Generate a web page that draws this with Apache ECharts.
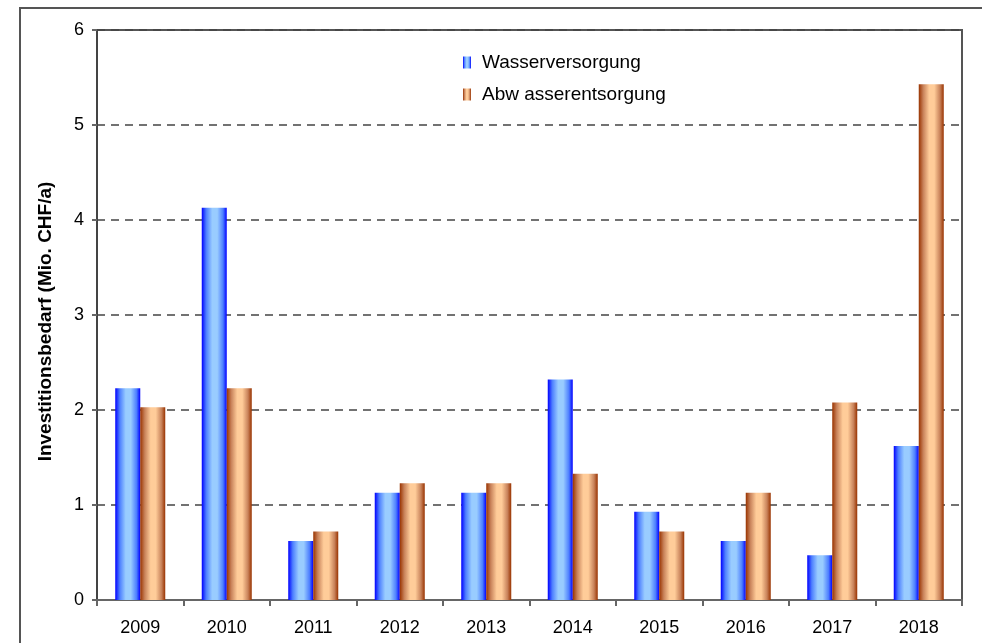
<!DOCTYPE html>
<html>
<head>
<meta charset="utf-8">
<script src="https://cdn.jsdelivr.net/npm/echarts@6/dist/echarts.min.js"></script>
<style>
  html, body { margin: 0; padding: 0; background: #fff; }
  #root { width: 982px; height: 643px; }
</style>
</head>
<body>
<div id="root"></div>
<script>
// Jahre (x-Achse)
var years = ['2009', '2010', '2011', '2012', '2013', '2014', '2015', '2016', '2017', '2018'];
// Investitionsbedarf in Mio. CHF/a
var wasser = [2.23, 4.13, 0.62, 1.13, 1.13, 2.32, 0.93, 0.62, 0.47, 1.62];
var abwasser = [2.03, 2.23, 0.72, 1.23, 1.23, 1.33, 0.72, 1.13, 2.08, 5.43];
var seriesNames = ['Wasserversorgung', 'Abw asserentsorgung'];

var FONT = 'Liberation Sans, Arial, sans-serif';

// horizontaler Verlauf wie im Excel-Diagramm
function barGradient(edge, mid, center) {
    return new echarts.graphic.LinearGradient(0, 0, 1, 0, [
        { offset: 0, color: edge },
        { offset: 0.18, color: mid },
        { offset: 0.42, color: center },
        { offset: 0.62, color: center },
        { offset: 0.85, color: mid },
        { offset: 1, color: edge }
    ]);
}

var myChart = echarts.init(document.getElementById('root'), null, { renderer: 'canvas' });

var option = {
    animation: false,
    backgroundColor: '#fff',
    textStyle: { fontFamily: FONT },
    grid: {
        left: 97, right: 20, top: 30, bottom: 43,
        show: true,
        borderColor: '#555',
        borderWidth: 2
    },
    legend: {
        orient: 'vertical',
        left: 463,
        top: 53,
        padding: 0,
        itemWidth: 8,
        itemHeight: 12,
        itemGap: 13,
        icon: 'rect',
        textStyle: { fontSize: 19, color: '#000', fontFamily: FONT, padding: [0, 0, 0, 6] },
        data: seriesNames
    },
    graphic: [
        // äusserer Rahmen
        {
            type: 'rect',
            shape: { x: 20, y: 8, width: 980, height: 660 },
            style: { fill: 'none', stroke: '#555', lineWidth: 2 },
            silent: true
        },
        {
            type: 'text',
            left: 36,
            top: 'middle',
            rotation: Math.PI / 2,
            style: {
                text: 'Investitionsbedarf (Mio. CHF/a)',
                font: 'bold 19px ' + FONT,
                fill: '#000'
            }
        }
    ],
    xAxis: {
        type: 'category',
        data: years,
        axisLine: { lineStyle: { color: '#666', width: 2 } },
        axisTick: { show: true, length: 6, lineStyle: { color: '#666', width: 2 } },
        axisLabel: { fontSize: 18, color: '#000', margin: 19, fontFamily: FONT }
    },
    yAxis: {
        type: 'value',
        min: 0,
        max: 6,
        interval: 1,
        axisLine: { show: true, lineStyle: { color: '#444', width: 2 } },
        axisTick: { show: true, length: 5, lineStyle: { color: '#666', width: 2 } },
        axisLabel: { fontSize: 18, color: '#000', margin: 13, fontFamily: FONT },
        splitLine: { lineStyle: { color: '#444', type: [8, 6], width: 1.5 } }
    },
    series: [
        {
            name: seriesNames[0],
            type: 'bar',
            data: wasser,
            barWidth: 25,
            barGap: '0%',
            itemStyle: { color: barGradient('#0000ff', '#4d7fff', '#99ccff') }
        },
        {
            name: seriesNames[1],
            type: 'bar',
            data: abwasser,
            barWidth: 25,
            barGap: '0%',
            itemStyle: { color: barGradient('#993300', '#c8825a', '#ffcc99') }
        }
    ]
};
myChart.setOption(option);
</script>
</body>
</html>
